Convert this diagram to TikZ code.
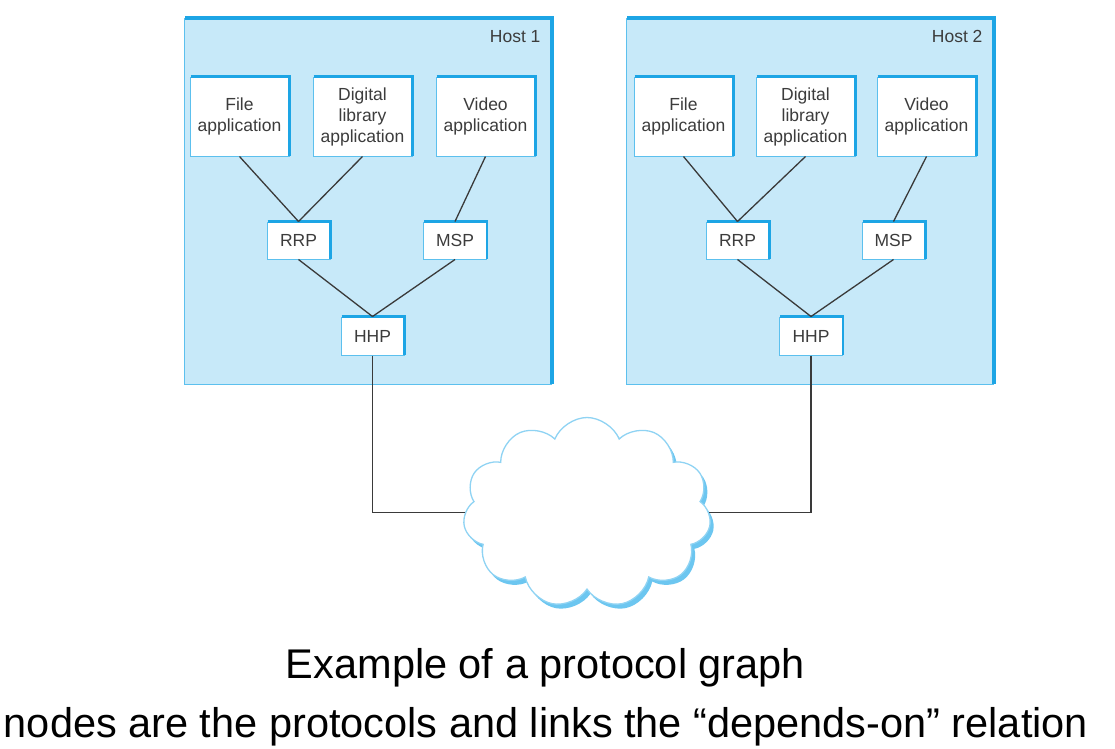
\documentclass[tikz,border=0pt]{standalone}
\usepackage{fontspec}
\setmainfont{Liberation Sans}
\usetikzlibrary{shapes.symbols}
\definecolor{hostfill}{HTML}{C7E9F9}
\definecolor{edgeblue}{HTML}{1DA5E5}
\definecolor{thinblue}{HTML}{5CC0EE}
\definecolor{linegray}{HTML}{3A3A3A}
\definecolor{txtgray}{HTML}{3C3C3C}
\definecolor{cloudedge}{HTML}{8FD3F3}
\definecolor{cloudshadow}{HTML}{6CC6F0}
\newcommand\thickedge[2]{\draw[draw=edgeblue, line width=#2, line join=miter] ([xshift=1pt]#1.north west) -- (#1.north east) -- ([yshift=1pt]#1.south east);}
\tikzset{
 hostbox/.style={draw=thinblue, line width=1pt, fill=hostfill, minimum width=367pt, minimum height=366pt, inner sep=0pt},
 appbox/.style={draw=thinblue, line width=1pt, fill=white, minimum width=99pt, minimum height=79pt, inner sep=0pt, align=center, text=txtgray, font=\fontsize{17.5}{21}\selectfont},
 protobox/.style={appbox, minimum width=63pt, minimum height=37pt},
 link/.style={draw=linegray, line width=1.3pt},
 hostlabel/.style={anchor=base east, text=txtgray, font=\fontsize{17.5}{21}\selectfont},
 captiontext/.style={anchor=base, font=\fontsize{41.5}{50}\selectfont},
 netcloud/.style={cloud, cloud puffs=11, cloud puff arc=135, aspect=1.3, minimum width=248pt, minimum height=190pt, inner sep=0pt},
}
\begin{document}
\begin{tikzpicture}[x=1pt,y=-1pt]
\useasboundingbox (0,0) rectangle (1115,748);
% hosts
\node[hostbox] (host1) at (368,201) {};
\node[hostbox] (host2) at (810,201) {};
\thickedge{host1}{4pt}
\thickedge{host2}{4pt}
\node[hostlabel] (h1label) at ([xshift=-8pt,yshift=-25pt]host1.north east) {Host 1};
\node[hostlabel] (h2label) at ([xshift=-8pt,yshift=-25pt]host2.north east) {Host 2};
% host 1 protocol graph
\node[appbox] (file1) at (239.5,116.5) {File\\application};
\node[appbox] (dig1) at (362.5,116.5) {Digital\\library\\application};
\node[appbox] (vid1) at (485.5,116.5) {Video\\application};
\node[protobox] (rrp1) at (298.5,240.5) {RRP};
\node[protobox] (msp1) at (455,240.5) {MSP};
\node[protobox, minimum height=38pt] (hhp1) at (372.5,336) {HHP};
% host 2 protocol graph
\node[appbox] (file2) at (683.5,116.5) {File\\application};
\node[appbox] (dig2) at (805.5,116.5) {Digital\\library\\application};
\node[appbox] (vid2) at (926.5,116.5) {Video\\application};
\node[protobox] (rrp2) at (737.5,240.5) {RRP};
\node[protobox] (msp2) at (893.5,240.5) {MSP};
\node[protobox, minimum height=38pt] (hhp2) at (811,336) {HHP};
\foreach \n in {file1,dig1,vid1,file2,dig2,vid2,rrp1,msp1,hhp1,rrp2,msp2,hhp2}{\thickedge{\n}{2.5pt}}
% links
\draw[link] (file1.south) -- (rrp1.north);
\draw[link] (dig1.south) -- (rrp1.north);
\draw[link] (vid1.south) -- (msp1.north);
\draw[link] (rrp1.south) -- (hhp1.north);
\draw[link] (msp1.south) -- (hhp1.north);
\draw[link] (file2.south) -- (rrp2.north);
\draw[link] (dig2.south) -- (rrp2.north);
\draw[link] (vid2.south) -- (msp2.north);
\draw[link] (rrp2.south) -- (hhp2.north);
\draw[link] (msp2.south) -- (hhp2.north);
% network cloud
\node[netcloud, fill=cloudshadow] (netshadow) at (590.5,517) {};
\node[netcloud, fill=white, draw=cloudedge, line width=1.3pt] (net) at (587,512.5) {};
\draw[link] (hhp1.south) |- (net.west);
\draw[link] (hhp2.south) |- (net.east);
% caption
\node[captiontext] (cap1) at (545.5,678) {Example of a protocol graph};
\node[captiontext] (cap2) at (546,737) {nodes are the protocols and links the “depends-on” relation};
\end{tikzpicture}
\end{document}
